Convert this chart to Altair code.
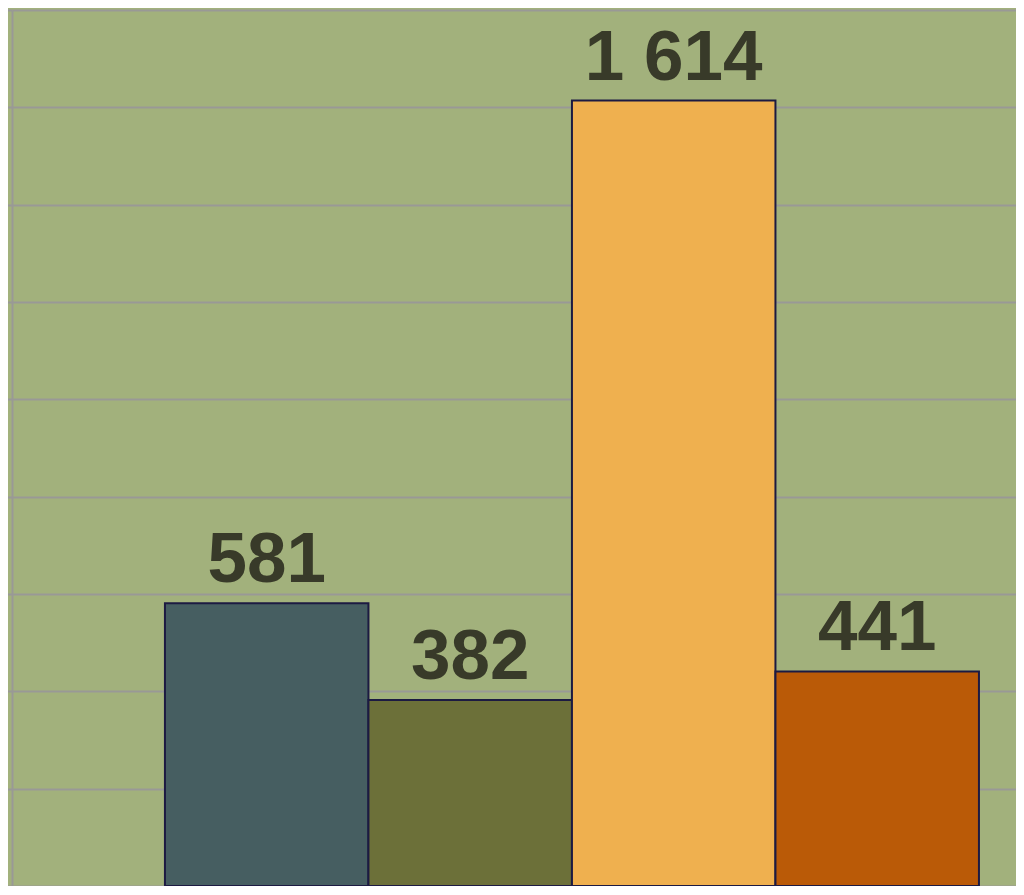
import altair as alt
import pandas as pd

categories = ["A", "B", "C", "D"]
values = [581, 382, 1614, 441]
colors = ["#465e61", "#6c7039", "#efb04f", "#ba5a07"]
grid_values = [0, 200, 400, 600, 800, 1000, 1200, 1400, 1600, 1800]

df = pd.DataFrame({"cat": categories, "value": values, "color": colors})

yaxis = alt.Axis(values=grid_values, labels=False, title=None,
                 grid=True, gridColor="#999996", gridWidth=2, gridOpacity=1,
                 ticks=True, tickSize=5, tickColor="#999996", tickWidth=2, tickOpacity=1,
                 domain=True, domainColor="#999996", domainWidth=2, domainOpacity=1)
yscale = alt.Scale(domain=[0, 1800], nice=False, zero=True)

base = alt.Chart(df).encode(
    x=alt.X("cat:N", sort=categories, axis=None,
            scale=alt.Scale(paddingInner=0, paddingOuter=0.4668, align=0.805)),
)

bars = base.mark_bar(stroke="#1c1a42", strokeWidth=2).encode(
    y=alt.Y("value:Q", scale=yscale, axis=yaxis),
    fill=alt.Fill("color:N", scale=None),
)

labels = base.mark_text(
    font="Liberation Sans", fontWeight="bold", fontSize=71, color="#383a29",
    baseline="alphabetic", align="center", dy=-21,
).transform_calculate(
    label="replace(format(datum.value, ','), ',', ' ')"
).encode(
    y=alt.Y("value:Q", scale=yscale, axis=yaxis),
    text="label:N",
)

chart = alt.layer(bars, labels).properties(
    width=1004, height=876,
    background="#a2b17c",
    padding={"left": 4, "top": 2, "right": 0, "bottom": 0},
    autosize=alt.AutoSizeParams(type="none"),
).configure_view(stroke=None)

chart.save("out.html", embed_options={"renderer": "svg", "actions": False})
